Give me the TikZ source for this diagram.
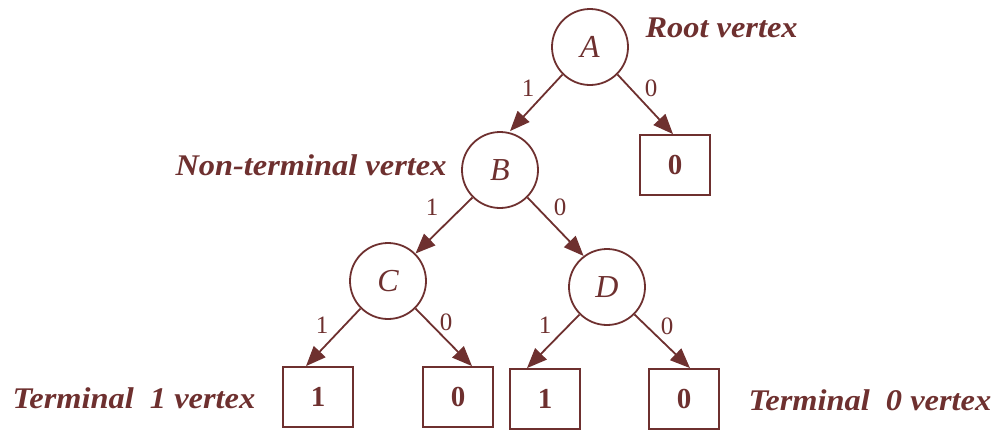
\documentclass[tikz,border=0pt]{standalone}
\usepackage{fontspec}
\setmainfont{Liberation Serif}
\newfontfamily\descfont[FakeStretch=1.08]{Liberation Serif}
\usetikzlibrary{arrows.meta}
\definecolor{maroon}{HTML}{6E302F}
\begin{document}
\begin{tikzpicture}[x=1pt,y=-1pt,
  every node/.style={text=maroon},
  vert/.style={circle,draw=maroon,line width=1.8pt,minimum size=76pt,inner sep=0pt,font=\fontsize{32}{32}\selectfont\itshape},
  term/.style={rectangle,draw=maroon,line width=1.8pt,minimum width=70pt,minimum height=60pt,inner sep=0pt,font=\fontsize{29}{29}\selectfont\bfseries},
  edge/.style={draw=maroon,line width=1.8pt,-{Triangle[length=20pt,width=16pt]}},
  elab/.style={font=\fontsize{25}{25}\selectfont},
  desc/.style={font=\descfont\fontsize{30}{30}\selectfont\bfseries\itshape}]
\useasboundingbox (0,0) rectangle (998,432);
\node[vert] (A) at (590,47) {A};
\node[vert] (B) at (500,170) {B};
\node[vert] (C) at (388,281) {C};
\node[vert] (D) at (607,287) {D};
\node[term] (Z) at (675,165) {0};
\node[term] (T1) at (318,397) {1};
\node[term] (T2) at (458,397) {0};
\node[term] (T3) at (545,399) {1};
\node[term] (T4) at (684,399) {0};
\draw[edge] (A.south west) -- ([xshift=10pt]B.north);
\draw[edge] (A.south east) -- ([xshift=-2pt]Z.north);
\draw[edge] (B.south west) -- (C.north east);
\draw[edge] (B.south east) -- (D.127);
\draw[edge] (C.south west) -- ([xshift=-12pt]T1.north);
\draw[edge] (C.south east) -- ([xshift=14pt]T2.north);
\draw[edge] (D.south west) -- ([xshift=-18pt]T3.north);
\draw[edge] (D.south east) -- ([xshift=6pt]T4.north);
\node[elab] (l1) at (528,88) {1};
\node[elab] (l2) at (651,88) {0};
\node[elab] (l3) at (432,207) {1};
\node[elab] (l4) at (560,207) {0};
\node[elab] (l5) at (322,325) {1};
\node[elab] (l6) at (446,322) {0};
\node[elab] (l7) at (545,325) {1};
\node[elab] (l8) at (667,326) {0};
\node[desc,anchor=west] (dr) at (642,28) {Root vertex};
\node[desc,anchor=east] (dn) at (450,165) {Non-terminal vertex};
\node[desc,anchor=west] (dt1) at (9,398) {Terminal\ \ 1 vertex};
\node[desc,anchor=west] (dt0) at (745,400) {Terminal\ \ 0 vertex};
\end{tikzpicture}
\end{document}
